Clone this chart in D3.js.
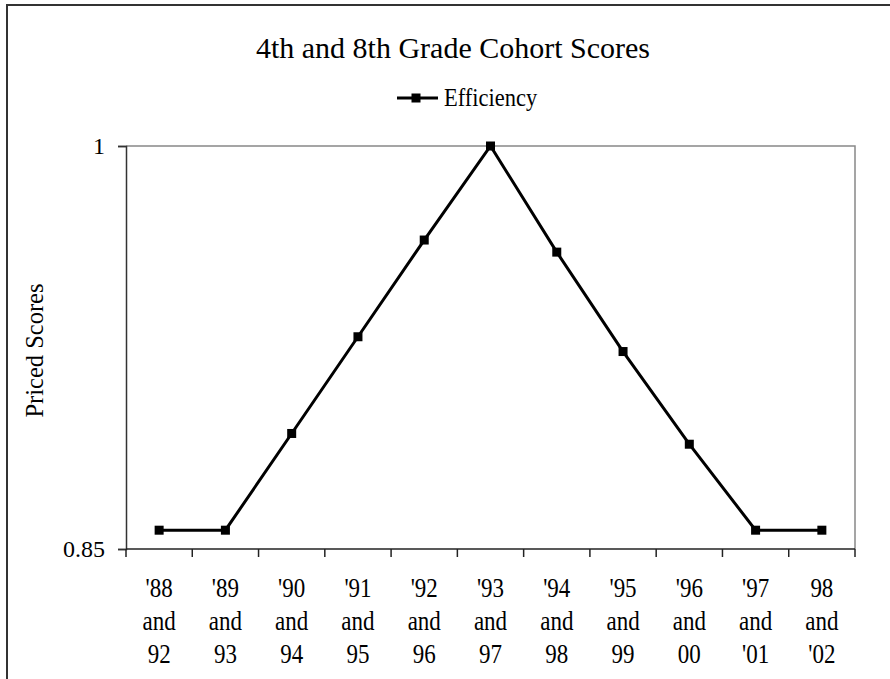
<!DOCTYPE html>
<html>
<head>
<script src="https://d3js.org/d3.v7.min.js" charset="utf-8"></script>
<style type="text/css">
  body { margin: 0; background: #fff; }
  text { font-family: "Liberation Serif", "Times New Roman", serif; fill: #000; }
</style>
</head>
<body>
<script>
// data
var categories = ["'88 and 92", "'89 and 93", "'90 and 94", "'91 and 95", "'92 and 96", "'93 and 97",
                  "'94 and 98", "'95 and 99", "'96 and 00", "'97 and '01", "98 and '02"];
var efficiency = [0.857, 0.857, 0.893, 0.929, 0.965, 1.0, 0.9605, 0.9235, 0.889, 0.857, 0.857];
var yTicks = [0.85, 1];
var title = "4th and 8th Grade Cohort Scores";
var seriesName = "Efficiency";
var yTitle = "Priced Scores";

var w = 890, h = 679;
var plotLeft = 126, plotRight = 855, plotTop = 146, plotBottom = 549;
var stretch = 1.15; // labels look taller than wide in the original
var serif = "'Liberation Serif', 'Times New Roman', serif";

var svg = d3.select("body").append("svg")
  .attr("width", w)
  .attr("height", h);

svg.append("rect").attr("width", w).attr("height", h).attr("fill", "#fff");

// outer chart frame (cut off at right and bottom)
svg.append("path")
  .attr("d", "M7," + h + "V5H" + w)
  .attr("fill", "none")
  .attr("stroke", "#333")
  .attr("stroke-width", 2);

var x = d3.scaleBand().domain(categories).range([plotLeft, plotRight]);
var y = d3.scaleLinear().domain([0.85, 1]).range([plotBottom, plotTop]);

// plot area top and right edges
svg.append("path")
  .attr("d", "M" + plotLeft + "," + plotTop + "H" + plotRight + "V" + plotBottom)
  .attr("fill", "none")
  .attr("stroke", "#888")
  .attr("stroke-width", 1.5);

// y axis
var yAxis = svg.append("g")
  .attr("transform", "translate(" + plotLeft + ",0)")
  .call(d3.axisLeft(y).tickValues(yTicks).tickSize(8).tickPadding(13).tickFormat(d3.format("")));
yAxis.attr("font-family", serif).attr("font-size", 24);
yAxis.select(".domain").attr("stroke", "#333").attr("stroke-width", 1.5);
yAxis.selectAll(".tick line").attr("stroke", "#333").attr("stroke-width", 1.5);
yAxis.selectAll(".tick text")
  .style("font-family", serif)
  .style("font-size", "24px")
  .attr("fill", "#000");

// x axis: ticks on category boundaries, labels in the middle
var xAxis = svg.append("g").attr("transform", "translate(0," + plotBottom + ")");
xAxis.append("line")
  .attr("x1", plotLeft).attr("x2", plotRight)
  .attr("stroke", "#222").attr("stroke-width", 1.5);
var bounds = categories.map(function(c) { return x(c); }).concat([x.range()[1]]);
xAxis.selectAll(".xtick")
  .data(bounds)
  .enter().append("line")
  .attr("class", "xtick")
  .attr("x1", function(d) { return d; })
  .attr("x2", function(d) { return d; })
  .attr("y1", 0).attr("y2", 8)
  .attr("stroke", "#222").attr("stroke-width", 1.5);

var labels = xAxis.selectAll(".xlabel")
  .data(categories)
  .enter().append("text")
  .attr("class", "xlabel")
  .attr("text-anchor", "middle")
  .style("font-size", "23px")
  .attr("transform", function(d) {
    return "translate(" + (x(d) + x.bandwidth() / 2) + ",48) scale(1," + stretch + ")";
  });
labels.selectAll("tspan")
  .data(function(d) { return d.split(" "); })
  .enter().append("tspan")
  .attr("x", 0)
  .attr("y", function(d, i) { return i * 33 / stretch; })
  .text(function(d) { return d; });

// y title
svg.append("text")
  .attr("transform", "translate(43," + ((plotTop + plotBottom) / 2 + 3) + ") rotate(-90)")
  .attr("text-anchor", "middle")
  .style("font-size", "24.5px")
  .text(yTitle);

// title
svg.append("text")
  .attr("x", 453)
  .attr("y", 58)
  .attr("text-anchor", "middle")
  .style("font-size", "30px")
  .text(title);

// legend
var legend = svg.append("g").attr("transform", "translate(397,98)");
legend.append("line").attr("x1", 0).attr("x2", 41).attr("stroke", "#000").attr("stroke-width", 3);
legend.append("rect").attr("x", 14.5).attr("y", -4.5).attr("width", 9).attr("height", 9).attr("fill", "#000");
legend.append("text")
  .attr("transform", "translate(47,8) scale(1," + stretch + ")")
  .style("font-size", "22.5px")
  .text(seriesName);

// series line and markers
var line = d3.line()
  .x(function(d, i) { return x(categories[i]) + x.bandwidth() / 2; })
  .y(function(d) { return y(d); });

svg.append("path")
  .datum(efficiency)
  .attr("d", line)
  .attr("fill", "none")
  .attr("stroke", "#000")
  .attr("stroke-width", 3)
  .attr("stroke-linejoin", "miter");

svg.selectAll(".marker")
  .data(efficiency)
  .enter().append("rect")
  .attr("class", "marker")
  .attr("x", function(d, i) { return x(categories[i]) + x.bandwidth() / 2 - 4.5; })
  .attr("y", function(d) { return y(d) - 4.5; })
  .attr("width", 9)
  .attr("height", 9)
  .attr("fill", "#000");
</script>
</body>
</html>
